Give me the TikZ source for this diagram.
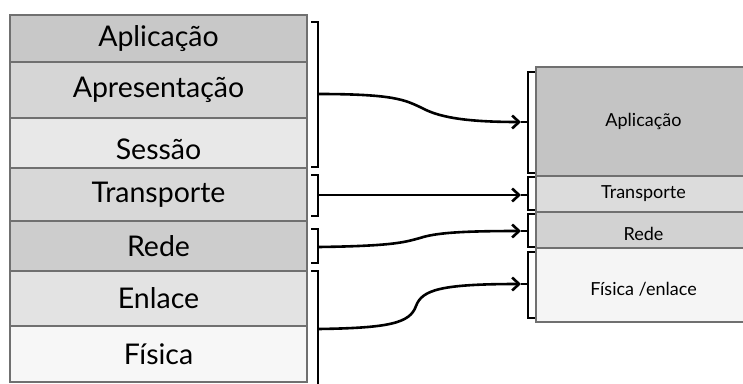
\documentclass[tikz,border=0pt]{standalone}
\usepackage{fontspec}
\setmainfont{Lato}
\usetikzlibrary{arrows.meta}
\definecolor{bordergray}{RGB}{112,112,112}
\definecolor{gA}{RGB}{200,200,200}
\definecolor{gB}{RGB}{214,214,214}
\definecolor{gC}{RGB}{232,232,232}
\definecolor{gD}{RGB}{216,216,216}
\definecolor{gE}{RGB}{205,205,205}
\definecolor{gF}{RGB}{227,227,227}
\definecolor{gG}{RGB}{247,247,247}
\definecolor{rA}{RGB}{196,196,196}
\definecolor{rB}{RGB}{220,220,220}
\definecolor{rC}{RGB}{210,210,210}
\definecolor{rD}{RGB}{245,245,245}
\newcommand{\lowered}[2]{\raisebox{#1}[\height][\depth]{#2}}
\begin{document}
\begin{tikzpicture}[x=1pt,y=-1pt,
  layL/.style={draw=bordergray, line width=1.8pt, anchor=north west,
    minimum width=297pt, inner sep=0pt, outer sep=0pt,
    font=\fontsize{28.5}{28.5}\selectfont},
  layR/.style={draw=bordergray, line width=1.8pt, anchor=north west,
    minimum width=215pt, inner sep=0pt, outer sep=0pt,
    font=\fontsize{18}{18}\selectfont},
  brk/.style={line width=2.6pt, line join=miter},
  conn/.style={line width=2.6pt, -{Straight Barb[length=7pt,width=13pt,line width=2.6pt]}}
]
\useasboundingbox (0,0) rectangle (743,383);
\fill[white] (0,0) rectangle (743,383);
% left stack
\node[layL, fill=gA, minimum height=47pt] (apl) at (10,15) {Aplicação};
\node[layL, fill=gB, minimum height=56pt] (apr) at (10,62) {Apresentação};
\node[layL, fill=gC, minimum height=50pt] (ses) at (10,118) {\lowered{-6pt}{Sessão}};
\node[layL, fill=gD, minimum height=53pt] (tra) at (10,168) {Transporte};
\node[layL, fill=gE, minimum height=50pt] (red) at (10,221) {Rede};
\node[layL, fill=gF, minimum height=55pt] (enl) at (10,271) {Enlace};
\node[layL, fill=gG, minimum height=56pt] (fis) at (10,326) {Física};
% right stack
\node[layR, fill=rA, minimum height=109pt] (rapl) at (536,67) {Aplicação};
\node[layR, fill=rB, minimum height=36pt] (rtra) at (536,176) {Transporte};
\node[layR, fill=rC, minimum height=36pt] (rred) at (536,212) {\lowered{-4pt}{Rede}};
\node[layR, fill=rD, minimum height=74pt] (rfis) at (536,248) {\lowered{-4pt}{Física /enlace}};
% left brackets
\draw[brk] (311,22) -- (318,22) -- (318,167) -- (311,167);
\draw[brk] (311,175) -- (318,175) -- (318,216) -- (311,216);
\draw[brk] (311,229) -- (318,229) -- (318,263) -- (311,263);
\draw[brk] (311,271) -- (318,271) -- (318,386);
\coordinate (a1) at (318,94);
\coordinate (a2) at (318,195);
\coordinate (a3) at (318,247);
\coordinate (a4) at (318,329);
% right brackets
\draw[brk] (535,72) -- (528,72) -- (528,173) -- (535,173);
\draw[brk] (535,177) -- (528,177) -- (528,210) -- (535,210);
\draw[brk] (535,214) -- (528,214) -- (528,247) -- (535,247);
\draw[brk] (535,252) -- (528,252) -- (528,318) -- (535,318);
\coordinate (b1) at (521,122);
\coordinate (b2) at (521,195);
\coordinate (b3) at (521,231);
\coordinate (b4) at (521,284);
\draw[brk] (b1) -- (528,122);
\draw[brk] (b2) -- (528,195);
\draw[brk] (b3) -- (528,231);
\draw[brk] (b4) -- (528,284);
% connectors
\draw[conn] (a1) .. controls (395,94) and (405,100) .. (422,108) .. controls (437,116) and (460,122) .. (b1);
\draw[conn] (a2) -- (b2);
\draw[conn] (a3) .. controls (395,246) and (405,242) .. (420,238) .. controls (435,233) and (460,231) .. (b3);
\draw[conn] (a4) .. controls (390,328) and (410,323) .. (416,306) .. controls (422,290) and (440,284) .. (b4);
\end{tikzpicture}
\end{document}
